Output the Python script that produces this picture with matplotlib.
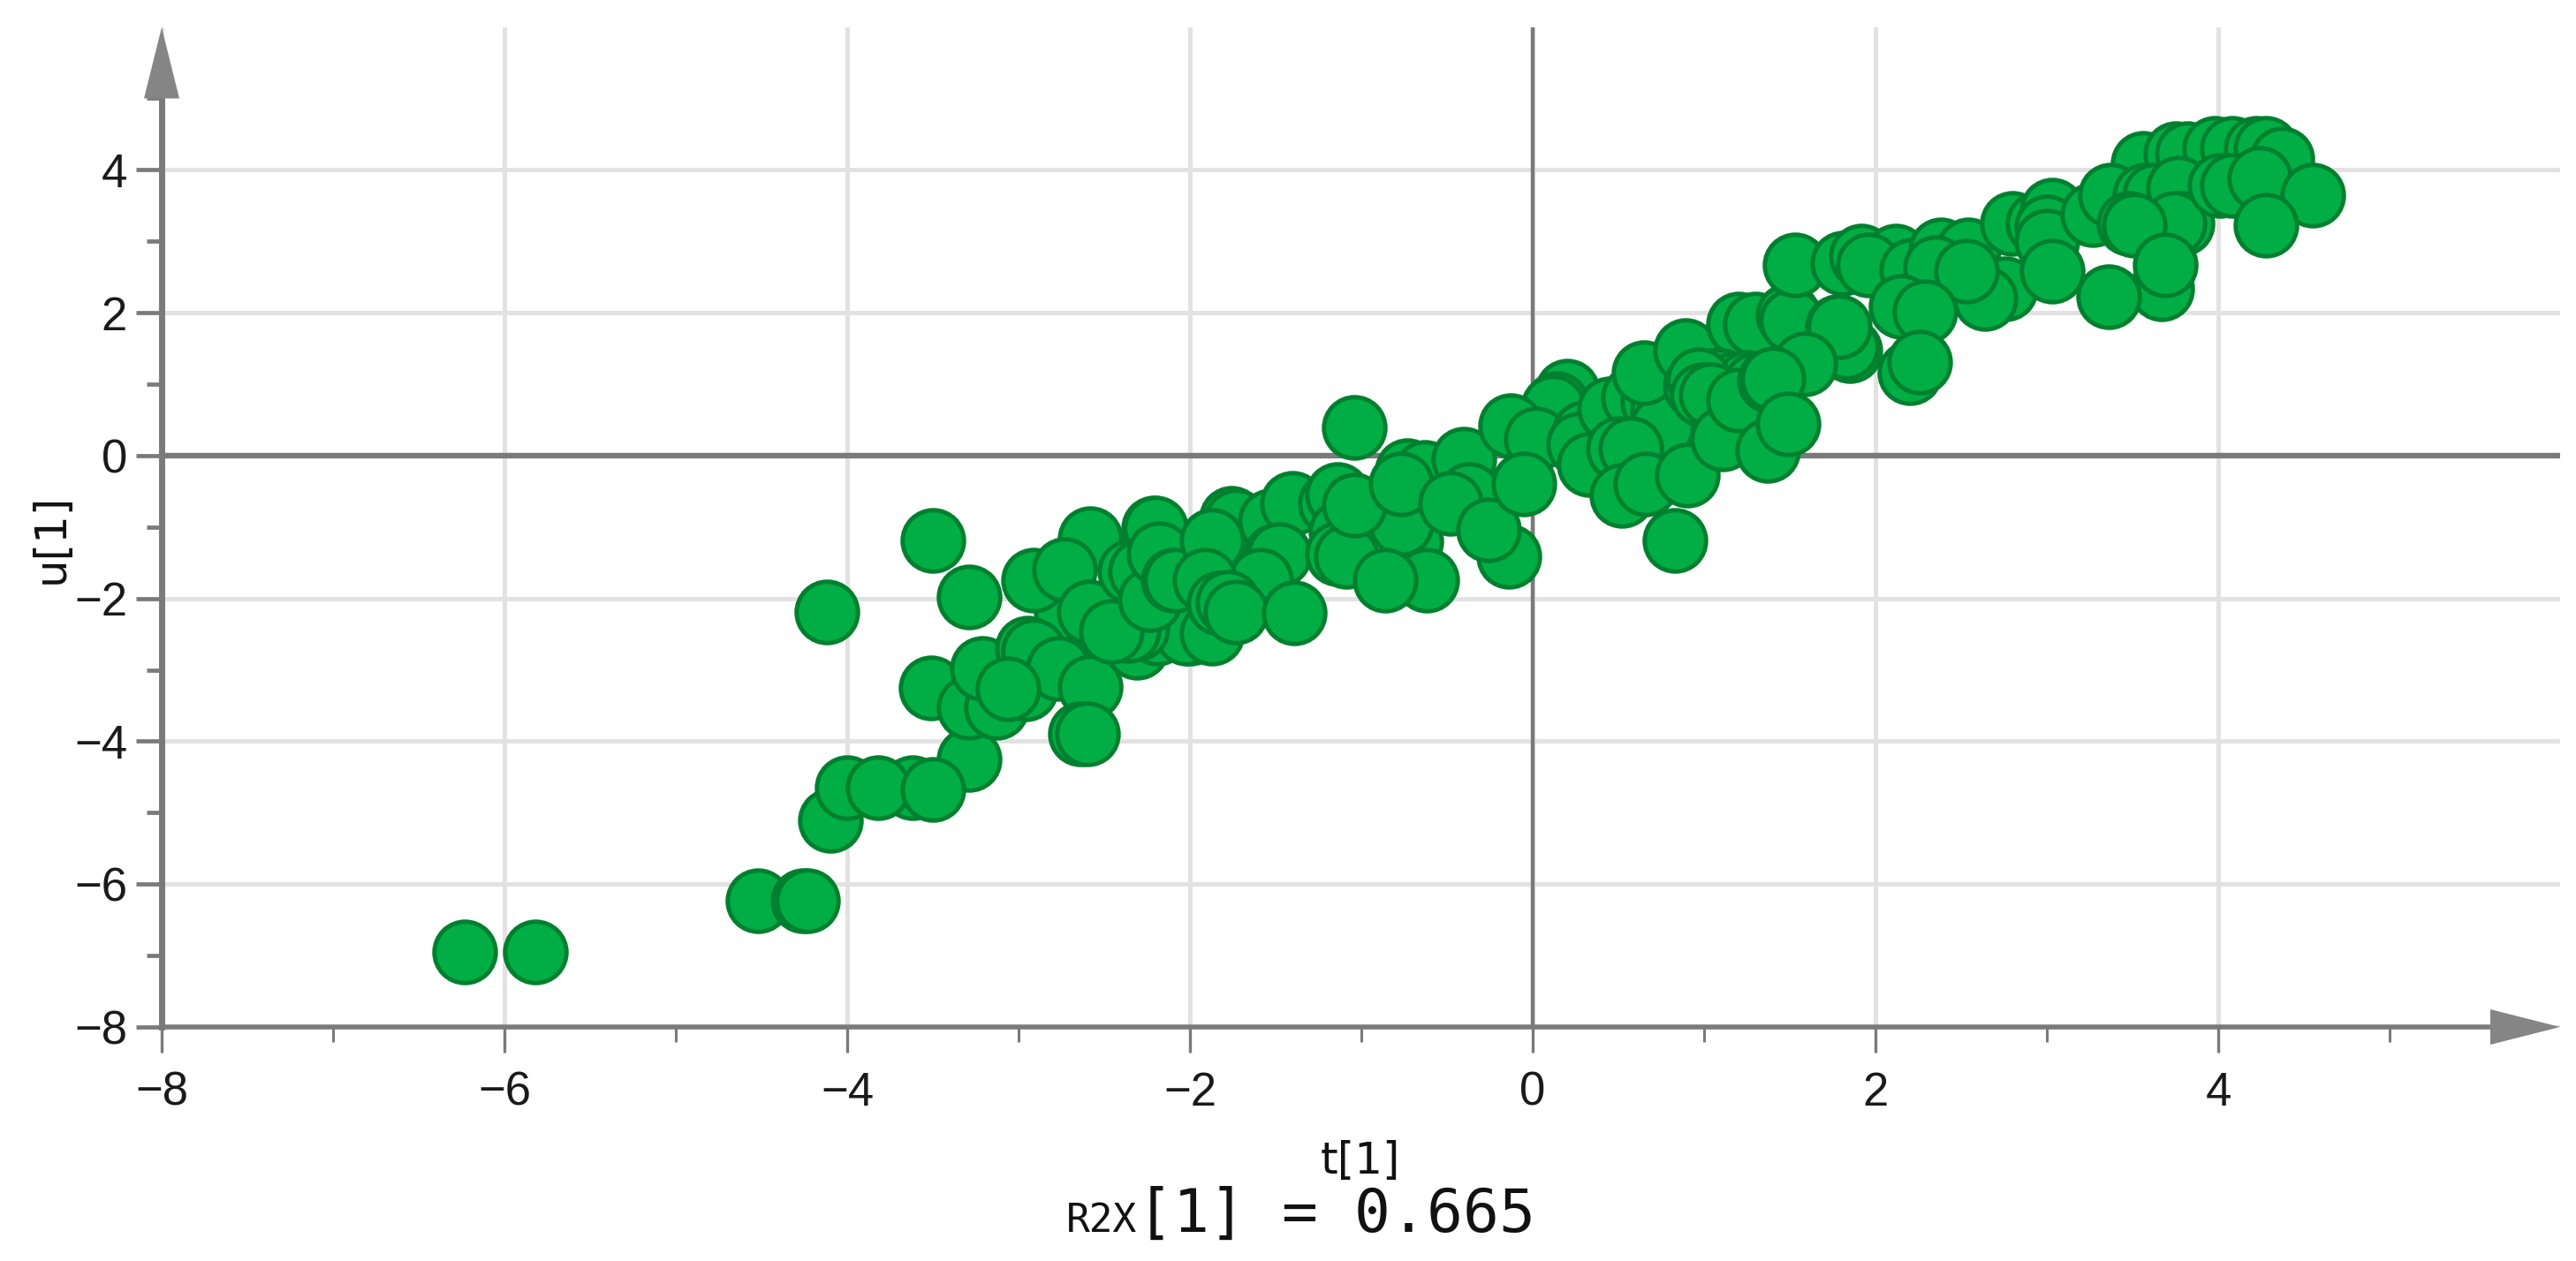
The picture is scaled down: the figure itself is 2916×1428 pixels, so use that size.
import matplotlib
matplotlib.use("Agg")
import matplotlib.pyplot as plt
from matplotlib.patches import Polygon

W, H = 2916, 1428
PX0, PY0 = 1735, 516      # pixel of the origin
SX, SY = 194.0, 80.9      # pixels per unit

t_scores = [
    -6.23, -5.82, -4.52, -4.26, -4.23,
    -4.10, -4.00, -3.62, -3.82, -3.29, -3.50,
    -3.51, -3.29, -3.13, -2.96, -3.21, -2.72, -2.55, -2.95, -2.91, -2.77, -3.06, -2.58, -2.64, -2.60,
    -3.50, -3.29, -4.12, -2.58, -2.91, -2.73,
    -2.59, -2.31, -2.00, -2.19, -2.02, -1.87, -2.31, -2.36, -2.46,
    -2.21, -2.20, -2.35, -2.29, -2.23, -2.18, -2.10, -2.08, -1.90,
    -1.76, -1.73, -1.53, -1.40, -1.87, -1.50, -1.48, -1.59, -1.91, -1.83, -1.78, -1.73, -1.39,
    -1.18, -1.14, -1.12, -1.14, -1.09, -0.71, -0.77, -1.04, -0.73, -0.63, -0.77,
    -0.40, -0.37, -0.48, -0.14, -0.26, -0.62, -0.86, -1.04,
    0.20, 0.14, 0.12, -0.13, 0.02, -0.05,
    0.30, 0.27, 0.33, 0.45, 0.59, 0.50, 0.70, 0.76, 0.75, 0.57, 0.52, 0.66, 0.90, 0.83, 0.65,
    0.89, 1.20, 1.30, 1.49, 1.51, 1.85, 1.78, 1.83, 1.79,
    0.95, 1.05, 1.10, 1.17, 1.25, 1.30, 0.97, 0.99, 1.04, 1.11, 1.20, 1.37, 1.59, 1.38, 1.40, 1.49,
    1.53, 1.81, 1.92, 2.12, 1.96, 2.21, 2.38, 2.54, 2.35, 2.76, 2.64, 2.53, 2.15, 2.29, 2.20, 2.26,
    3.56, 3.75, 3.82, 3.98, 4.08, 4.22, 4.28, 4.37,
    2.80, 2.95, 3.03, 3.00, 3.00, 3.27, 3.03,
    3.37, 3.57, 3.63, 3.77, 3.79, 3.74, 3.48, 3.51, 4.01, 4.08, 4.24, 4.55, 4.28,
    3.67, 3.36, 3.69,
]
u_scores = [
    -6.95, -6.95, -6.23, -6.23, -6.23,
    -5.11, -4.65, -4.65, -4.65, -4.25, -4.68,
    -3.25, -3.53, -3.53, -3.26, -2.98, -2.19, -2.30, -2.70, -2.73, -2.98, -3.26, -3.24, -3.90, -3.89,
    -1.19, -1.98, -2.19, -1.16, -1.74, -1.60,
    -2.19, -2.68, -2.48, -2.48, -2.48, -2.48, -2.43, -2.45, -2.46,
    -1.01, -1.02, -1.62, -1.62, -2.02, -1.37, -1.74, -1.74, -1.74,
    -0.88, -0.91, -0.91, -0.67, -1.19, -1.40, -1.38, -1.74, -1.75, -2.07, -2.05, -2.19, -2.20,
    -0.67, -0.54, -1.07, -1.37, -1.41, -1.20, -0.95, -0.69, -0.21, -0.23, -0.40,
    -0.05, -0.54, -0.67, -1.41, -1.04, -1.75, -1.75, 0.40,
    0.90, 0.73, 0.68, 0.42, 0.23, -0.40,
    0.32, 0.16, -0.13, 0.65, 0.81, 0.10, 0.75, 0.63, 0.40, 0.10, -0.56, -0.40, -0.27, -1.19, 1.16,
    1.47, 1.84, 1.84, 1.96, 1.89, 1.47, 1.80, 1.52, 1.80,
    0.97, 1.05, 1.05, 1.00, 1.02, 1.00, 1.06, 0.85, 0.85, 0.24, 0.78, 0.07, 1.29, 1.05, 1.08, 0.44,
    2.67, 2.70, 2.79, 2.79, 2.67, 2.60, 2.88, 2.88, 2.63, 2.33, 2.20, 2.58, 2.09, 2.01, 1.16, 1.31,
    4.09, 4.23, 4.23, 4.30, 4.30, 4.30, 4.30, 4.15,
    3.25, 3.25, 3.44, 3.20, 3.00, 3.37, 2.58,
    3.65, 3.65, 3.65, 3.74, 3.25, 3.25, 3.25, 3.22, 3.78, 3.78, 3.88, 3.65, 3.22,
    2.33, 2.23, 2.67,
]

major_ticks = [-8, -6, -4, -2, 0, 2, 4]
major_labels = ["\u22128", "\u22126", "\u22124", "\u22122", "0", "2", "4"]
minor_x = [-7, -5, -3, -1, 1, 3, 5]
minor_y = [-7, -5, -3, -1, 1, 3, 5]

GREEN = "#00AE45"
EDGE = "#00802F"
AXIS = "#7A7A7A"
GRID = "#E2E2E2"

fig = plt.figure(figsize=(W / 100, H / 100), dpi=100, facecolor="white")
x_end, y_end = 2898, 31
ax = fig.add_axes([183 / W, (H - 1163) / H, (x_end - 183) / W, (1163 - y_end) / H])
ax.set_xlim(-8, (x_end - PX0) / SX)
ax.set_ylim(-8, (PY0 - y_end) / SY)
ax.set_facecolor("white")
for s in ("top", "right"):
    ax.spines[s].set_visible(False)
ax.spines["left"].set_color(AXIS)
ax.spines["left"].set_linewidth(5)
ax.spines["left"].set_bounds(-8, 5)
ax.spines["bottom"].set_color(AXIS)
ax.spines["bottom"].set_linewidth(4)
ax.spines["bottom"].set_bounds(-8, 5.6)

ax.set_xticks(major_ticks)
ax.set_xticklabels(major_labels, fontfamily="Liberation Sans", fontsize=38, color="#1a1a1a")
ax.set_yticks(major_ticks)
ax.set_yticklabels(major_labels, fontfamily="Liberation Sans", fontsize=38, color="#1a1a1a")
ax.set_xticks(minor_x, minor=True)
ax.set_yticks(minor_y, minor=True)
ax.tick_params(axis="x", which="major", length=21, width=2.4, color=AXIS, pad=15)
ax.tick_params(axis="x", which="minor", length=12, width=2.2, color=AXIS)
ax.tick_params(axis="y", which="major", length=21, width=3.4, color=AXIS, pad=7)
ax.tick_params(axis="y", which="minor", length=12, width=3.4, color=AXIS)

ax.set_axisbelow(True)
ax.grid(True, which="major", color=GRID, linewidth=3.6, zorder=0)
ax.axhline(0, color=AXIS, linewidth=4.6, zorder=1)
ax.axvline(0, color=AXIS, linewidth=3.2, zorder=1)

ax.scatter(t_scores, u_scores, s=2500, facecolor=GREEN, edgecolor=EDGE,
           linewidth=3.6, zorder=3, clip_on=False)

# axis arrow heads
dx = 20 / SX
ax.add_patch(Polygon([(-8 - dx, 5), (-8 + dx, 5), (-8, (PY0 - 31) / SY)], closed=True,
                     facecolor="#858585", edgecolor="none", clip_on=False, zorder=4))
dy = 20 / SY
ax.add_patch(Polygon([((2819 - PX0) / SX, -8 - dy), ((2819 - PX0) / SX, -8 + dy),
                      ((2898 - PX0) / SX, -8)], closed=True,
                     facecolor="#858585", edgecolor="none", clip_on=False, zorder=4))

fig.text(58 / W, 1 - 610 / H, "u[1]", rotation=90, ha="center", va="center",
         fontfamily="DejaVu Sans", fontsize=36, color="#111111")
fig.text(1540 / W, 1 - 1315 / H, "t[1]", ha="center", va="center",
         fontfamily="DejaVu Sans", fontsize=36, color="#111111")
fig.text(1287 / W, 1 - 1395 / H, "R2X", ha="right", va="baseline",
         fontfamily="DejaVu Sans Mono", fontsize=32, color="#111111")
fig.text(1287 / W, 1 - 1395 / H, "[1] = 0.665", ha="left", va="baseline",
         fontfamily="DejaVu Sans Mono", fontsize=49, color="#111111")

fig.savefig("out.png", dpi=100, facecolor="white")
